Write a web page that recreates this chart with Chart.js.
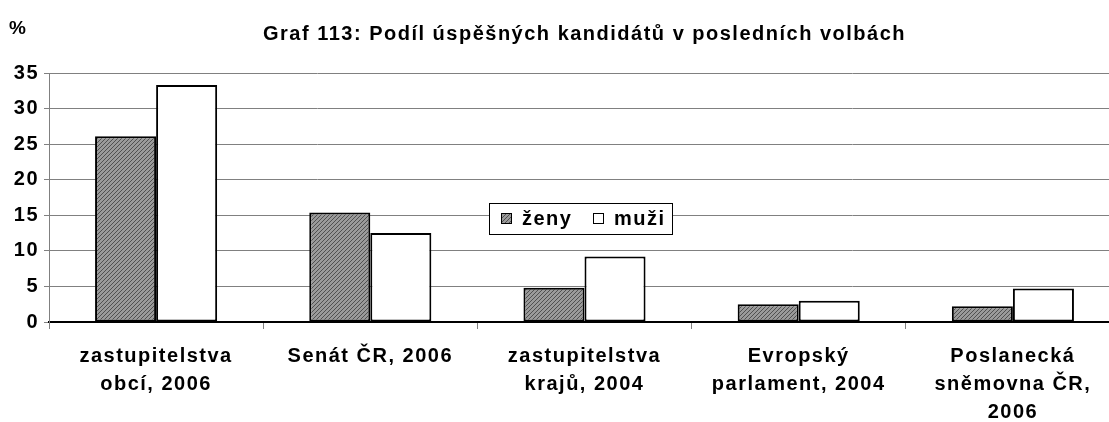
<!DOCTYPE html>
<html>
<head>
<meta charset="utf-8">
<script src="https://cdn.jsdelivr.net/npm/chart.js@4.4.0/dist/chart.umd.min.js"></script>
<style>
  html, body { margin: 0; padding: 0; background: #fff; overflow: hidden; }
  #wrap { width: 1109px; height: 422px; overflow: hidden; }
</style>
</head>
<body>
<div id="wrap"><canvas id="chart" width="1122" height="422"></canvas></div>
<script>
const categories = [
  ['zastupitelstva', 'obcí, 2006'],
  'Senát ČR, 2006',
  ['zastupitelstva', 'krajů, 2004'],
  ['Evropský', 'parlament, 2004'],
  ['Poslanecká', 'sněmovna ČR,', '2006']
];
const zeny = [26.1, 15.4, 4.8, 2.5, 2.2];
const muzi = [33.3, 12.5, 9.2, 3.0, 4.7];
const yTicks = [0, 5, 10, 15, 20, 25, 30, 35];

const FONT = 'Liberation Sans, Arial, sans-serif';

// fine diagonal hatch like the old excel fill
function hatch() {
  const c = document.createElement('canvas');
  c.width = 4; c.height = 4;
  const g = c.getContext('2d');
  g.fillStyle = '#9a9a9a';
  g.fillRect(0, 0, 4, 4);
  g.fillStyle = '#505050';
  for (let i = 0; i < 4; i++) {
    g.fillRect(i, 3 - i, 1, 1);
  }
  return g.createPattern(c, 'repeat');
}
const zenyFill = hatch();

// the original texts are a bit spread out, so widen every label
const spacing = {
  id: 'spacing',
  beforeDraw(chart) { chart.ctx.letterSpacing = '1.5px'; }
};

// "%" label over the y axis + legend box floating in the plot
const extras = {
  id: 'extras',
  afterDraw(chart) {
    const ctx = chart.ctx;
    ctx.save();
    ctx.letterSpacing = '1px';
    ctx.fillStyle = '#000';
    ctx.font = 'bold 19px ' + FONT;
    ctx.textBaseline = 'middle';
    ctx.textAlign = 'left';
    ctx.fillText('%', 9, 29);

    // legend
    const x0 = 489, y0 = 203, w = 183, h = 31;
    ctx.fillStyle = '#fff';
    ctx.fillRect(x0, y0, w, h);
    ctx.strokeStyle = '#000';
    ctx.lineWidth = 1;
    ctx.strokeRect(x0 + 0.5, y0 + 0.5, w, h);
    ctx.font = 'bold 20px ' + FONT;
    ctx.letterSpacing = '1.5px';
    const xs = [501, 593];
    chart.data.datasets.forEach((ds, i) => {
      ctx.fillStyle = ds.backgroundColor;
      ctx.fillRect(xs[i], y0 + 10, 11, 11);
      ctx.strokeStyle = '#000';
      ctx.strokeRect(xs[i] + 0.5, y0 + 10.5, 10, 10);
      ctx.fillStyle = '#000';
      ctx.fillText(ds.label, xs[i] + 21, y0 + 16);
    });
    ctx.restore();
  }
};

new Chart(document.getElementById('chart'), {
  type: 'bar',
  data: {
    labels: categories,
    datasets: [
      {
        label: 'ženy',
        data: zeny,
        backgroundColor: zenyFill,
        borderColor: '#000',
        borderWidth: 2,
        borderSkipped: false
      },
      {
        label: 'muži',
        data: muzi,
        backgroundColor: '#ffffff',
        borderColor: '#000',
        borderWidth: 2,
        borderSkipped: false
      }
    ]
  },
  options: {
    responsive: false,
    animation: false,
    layout: { padding: { left: 0, right: 2, top: 0, bottom: 0 } },
    datasets: {
      bar: { categoryPercentage: 0.57, barPercentage: 1.0 }
    },
    plugins: {
      legend: { display: false },
      tooltip: { enabled: false },
      title: {
        display: true,
        fullSize: false,
        text: 'Graf 113: Podíl úspěšných kandidátů v posledních volbách',
        color: '#000',
        font: { family: FONT, size: 20, weight: 'bold' },
        padding: { top: 22, bottom: 27 }
      }
    },
    scales: {
      x: {
        grid: {
          drawOnChartArea: false,
          drawTicks: true,
          tickLength: 7,
          color: '#808080',
          offset: true
        },
        border: { color: '#000', width: 2 },
        ticks: {
          color: '#000',
          maxRotation: 0,
          autoSkip: false,
          padding: 13,
          font: { family: FONT, size: 20, weight: 'bold', lineHeight: 1.4 }
        },
        afterFit(scale) { scale.height = 100; }
      },
      y: {
        min: 0,
        max: 35,
        afterBuildTicks(scale) { scale.ticks = yTicks.map(v => ({ value: v })); },
        grid: {
          color: '#808080',
          lineWidth: 1,
          tickLength: 5
        },
        border: { color: '#808080', width: 1 },
        ticks: {
          color: '#000',
          padding: 5,
          font: { family: FONT, size: 20, weight: 'bold' }
        },
        afterFit(scale) { scale.width = 49; }
      }
    }
  },
  plugins: [spacing, extras]
});
</script>
</body>
</html>
